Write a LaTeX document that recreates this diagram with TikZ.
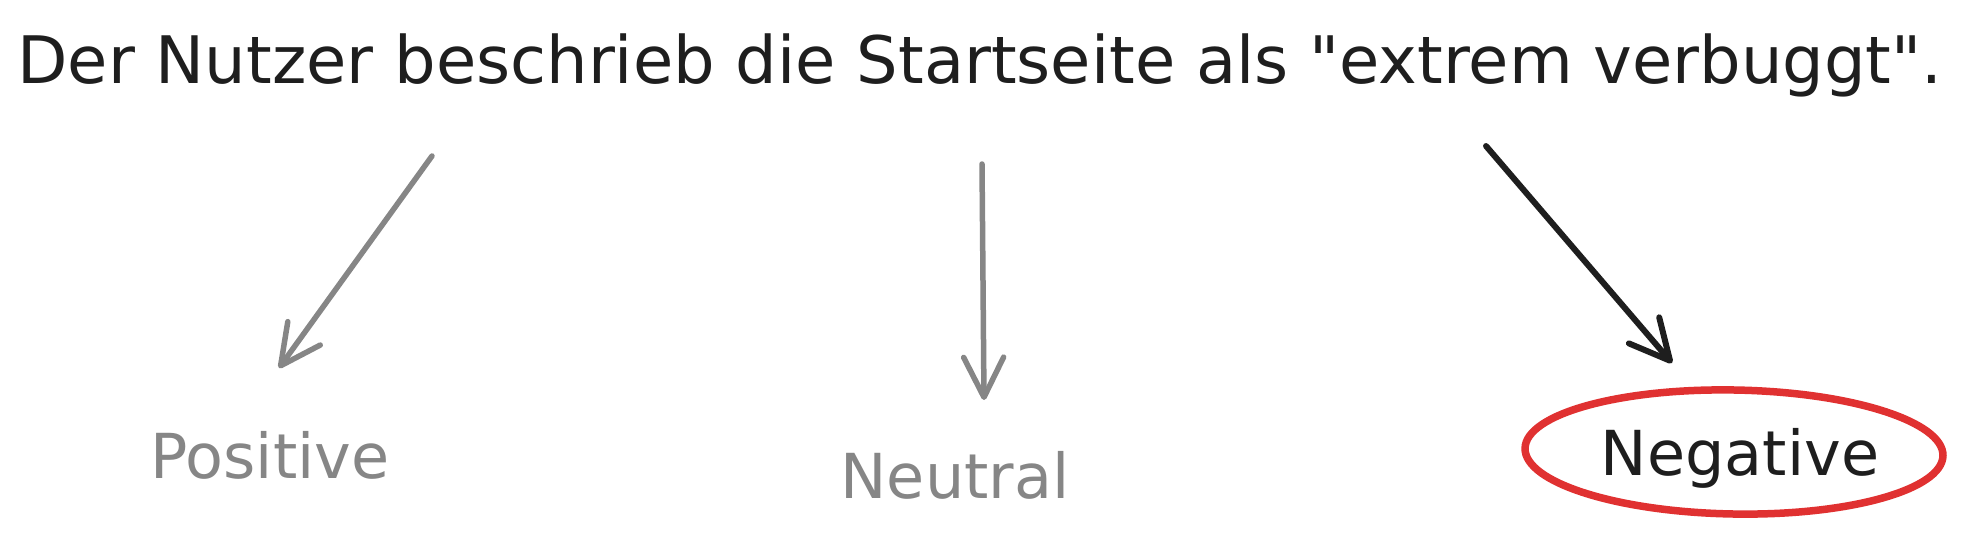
\documentclass[tikz,border=0pt]{standalone}
\usepackage{fontspec}
\setmainfont{DejaVu Sans}[Ligatures=TeXOff]
\usetikzlibrary{arrows.meta,shapes.geometric}
\definecolor{inkgray}{HTML}{868686}
\definecolor{inkblack}{HTML}{1E1E1E}
\definecolor{inkred}{HTML}{E03131}
\tikzset{
  title/.style={font=\fontsize{65.5}{80}\selectfont, text=inkblack, inner sep=0pt, anchor=base},
  label/.style={font=\fontsize{62}{74}\selectfont, inner sep=0pt, anchor=base},
  arr/.style={line width=5.5pt, line cap=round, -{Straight Barb[length=40pt, width=40pt, round]}},
  ring/.style={draw=inkred, line width=7.5pt, ellipse, minimum width=418pt, minimum height=124pt, inner sep=0pt}
}
\begin{document}
\begin{tikzpicture}[x=1pt,y=-1pt]
\useasboundingbox (0,0) rectangle (1961,544);
\node[title] (t) at (980,83) {Der Nutzer beschrieb die Startseite als "extrem verbuggt".};
\coordinate (s1) at (432,156);
\coordinate (e1) at (279,368);
\coordinate (s2) at (982,164);
\coordinate (e2) at (984,400);
\coordinate (s3) at (1486,146);
\coordinate (e3) at (1672,363);
\draw[arr, draw=inkgray] (s1) -- (e1);
\draw[arr, draw=inkgray] (s2) -- (e2);
\draw[arr, draw=inkblack, line width=6pt] (s3) -- (e3);
\node[label, text=inkgray] (pos) at (270,478) {Positive};
\node[label, text=inkgray] (neu) at (955,498) {Neutral};
\node[ring, rotate=-1] (r) at (1734,452) {};
\node[label, text=inkblack] (neg) at (1740,475) {Negative};
\end{tikzpicture}
\end{document}
